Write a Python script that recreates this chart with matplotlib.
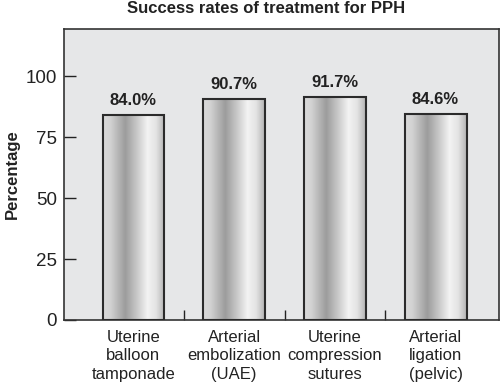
import matplotlib

matplotlib.use("Agg")
import matplotlib.pyplot as plt
from matplotlib.colors import LinearSegmentedColormap
import numpy as np

TITLE = "Success rates of treatment for PPH"
CATEGORIES = [
    "Uterine\nballoon\ntamponade",
    "Arterial\nembolization\n(UAE)",
    "Uterine\ncompression\nsutures",
    "Arterial\nligation\n(pelvic)",
]
RATES = [84.0, 90.7, 91.7, 84.6]
RATE_LABELS = ["84.0%", "90.7%", "91.7%", "84.6%"]
Y_TICKS = [0, 25, 50, 75, 100]

plt.rcParams.update({
    "font.family": ["Liberation Sans", "DejaVu Sans"],
    "axes.linewidth": 1.2,
})

BG = "#e6e7e8"
EDGE = "#2b2b2b"
TEXT = "#222222"

# cylinder-like shading across each bar
shade = LinearSegmentedColormap.from_list(
    "shade",
    [(0.0, "#dadada"), (0.12, "#d2d2d2"), (0.36, "#9c9c9c"), (0.55, "#c9c9c9"),
     (0.72, "#f3f3f3"), (0.86, "#e3e3e3"), (1.0, "#b3b3b3")],
)
grad = np.linspace(0, 1, 256).reshape(1, -1)

fig = plt.figure(figsize=(5.0, 3.85), dpi=100)
ax = fig.add_axes([0.128, 0.169, 0.87, 0.756])
ax.set_facecolor(BG)

x = np.arange(len(CATEGORIES))
width = 0.615
bars = ax.bar(x, RATES, width=width, facecolor="none", edgecolor=EDGE, linewidth=1.5, zorder=3)
for rect in bars:
    x0 = rect.get_x()
    ax.imshow(grad, cmap=shade, aspect="auto", zorder=2,
              extent=(x0, x0 + rect.get_width(), 0, rect.get_height()))

for xi, val, lab in zip(x, RATES, RATE_LABELS):
    ax.annotate(lab, (xi, val), xytext=(0, 5), textcoords="offset points",
                ha="center", va="bottom", fontsize=12, fontweight="bold", color=TEXT)

ax.set_xlim(-0.69, 3.63)
ax.set_ylim(0, 119.5)
ax.set_yticks(Y_TICKS)
ax.tick_params(axis="y", direction="in", length=8.5, width=1.0, pad=5, labelsize=13.5,
               colors=TEXT)
ax.set_xticks(x)
ax.set_xticklabels(CATEGORIES, fontsize=12, linespacing=1.32, color=TEXT)
ax.tick_params(axis="x", which="major", length=0, pad=7)
ax.set_xticks(x[:-1] + 0.5, minor=True)
ax.tick_params(axis="x", which="minor", direction="in", length=7, width=1.0, colors=TEXT)

for spine in ax.spines.values():
    spine.set_color("#333333")

ax.set_ylabel("Percentage", fontsize=12, fontweight="bold", labelpad=4, color=TEXT)
fig.text(0.532, 0.978, TITLE, ha="center", va="center", fontsize=12, fontweight="bold",
         color=TEXT)

fig.savefig("out.png", dpi=100)
